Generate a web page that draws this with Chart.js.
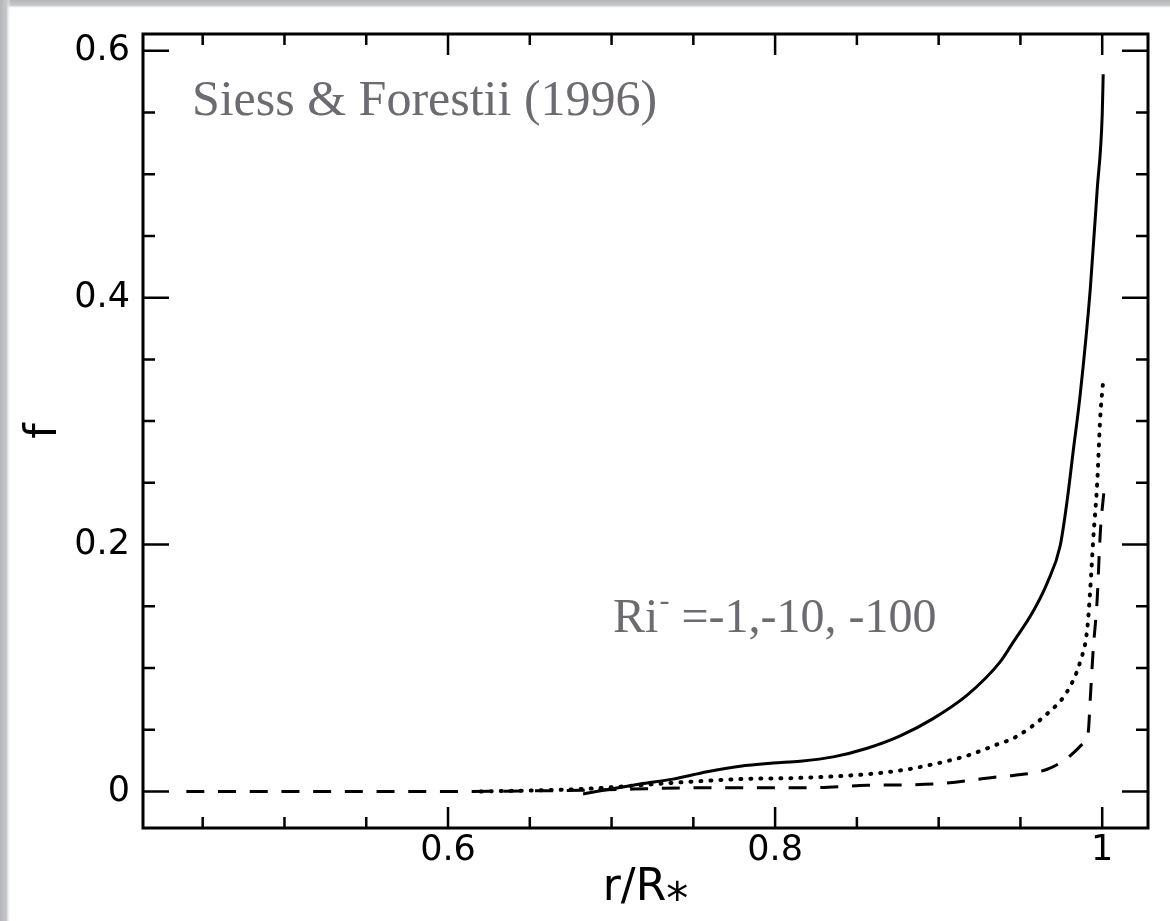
<!DOCTYPE html>
<html>
<head>
<meta charset="utf-8">
<script src="https://cdn.jsdelivr.net/npm/chart.js@4/dist/chart.umd.min.js"></script>
<style>
  html, body { margin: 0; padding: 0; background: #fff; }
  canvas { display: block; }
</style>
</head>
<body>
<canvas id="plot" width="1170" height="921"></canvas>
<script>
// values
const xTicks = [0.6, 0.8, 1]
const xTickLabels = ['0.6', '0.8', '1']
const yTicks = [0, 0.2, 0.4, 0.6]
const yTickLabels = ['0', '0.2', '0.4', '0.6']
const minorStep = 0.05

// Ri = -1 (solid)
const rSolid = [0.6826, 0.7174, 0.7376, 0.7584, 0.7786, 0.7988, 0.8153, 0.8355, 0.8563, 0.8765, 0.8966, 0.9174, 0.9376, 0.9456, 0.9578, 0.9664, 0.9743, 0.9786, 0.9823, 0.9865, 0.9927, 0.9969, 1.0000, 1.0006]
const fSolid = [-0.002, 0.006, 0.010, 0.016, 0.0205, 0.023, 0.0245, 0.028, 0.035, 0.045, 0.059, 0.078, 0.105, 0.121, 0.146, 0.169, 0.199, 0.236, 0.276, 0.321, 0.407, 0.487, 0.548, 0.581]

// Ri = -10 (dotted)
const rDot = [0.620, 0.6826, 0.7376, 0.7786, 0.8153, 0.8563, 0.8765, 0.8966, 0.9174, 0.9376, 0.9456, 0.9664, 0.9786, 0.9865, 0.9908, 0.9927, 0.9945, 0.9969, 0.9988, 1.0006]
const fDot = [0.000, 0.002, 0.007, 0.010, 0.011, 0.014, 0.017, 0.022, 0.029, 0.039, 0.043, 0.063, 0.081, 0.105, 0.131, 0.164, 0.204, 0.249, 0.303, 0.333]

// Ri = -100 (dashed)
const rDash = [0.440, 0.600, 0.6826, 0.7584, 0.8196, 0.8563, 0.8966, 0.9376, 0.9456, 0.9664, 0.9786, 0.9884, 0.9914, 0.9927, 0.9945, 0.9969, 0.9988, 1.0012]
const fDash = [0.000, 0.000, 0.001, 0.003, 0.003, 0.005, 0.006, 0.012, 0.013, 0.018, 0.027, 0.039, 0.047, 0.075, 0.115, 0.155, 0.209, 0.245]

const toPoints = (xs, ys) => xs.map((x, i) => ({ x: x, y: ys[i] }))

const grayText = '#6d6b71'

// page shadow, frame, inward ticks and the two notes
const paperPlugin = {
  id: 'paper',
  beforeDraw(chart) {
    const ctx = chart.ctx
    ctx.save()
    ctx.fillStyle = '#fff'
    ctx.fillRect(0, 0, chart.width, chart.height)
    let g = ctx.createLinearGradient(0, 0, 0, 9)
    g.addColorStop(0, '#b4b5b8')
    g.addColorStop(0.6, '#c8c9cb')
    g.addColorStop(1, 'rgba(255,255,255,0)')
    ctx.fillStyle = g
    ctx.fillRect(0, 0, chart.width, 9)
    g = ctx.createLinearGradient(0, 0, 11, 0)
    g.addColorStop(0, '#b4b5b8')
    g.addColorStop(0.6, '#c8c9cb')
    g.addColorStop(1, 'rgba(255,255,255,0)')
    ctx.fillStyle = g
    ctx.fillRect(0, 0, 11, chart.height)
    ctx.restore()
  },
  afterDraw(chart) {
    const ctx = chart.ctx
    const a = chart.chartArea
    const xs = chart.scales.x
    const ys = chart.scales.y
    ctx.save()
    ctx.strokeStyle = '#000'
    ctx.lineWidth = 3
    ctx.strokeRect(a.left, a.top, a.right - a.left, a.bottom - a.top)

    ctx.lineWidth = 2.5
    ctx.beginPath()
    for (let v = 0.45; v <= 1.0001; v += minorStep) {
      const px = xs.getPixelForValue(v)
      const major = xTicks.some(t => Math.abs(t - v) < 1e-6)
      const len = major ? 21 : 11
      ctx.moveTo(px, a.bottom); ctx.lineTo(px, a.bottom - len)
      ctx.moveTo(px, a.top); ctx.lineTo(px, a.top + len)
    }
    for (let v = 0; v <= 0.6001; v += minorStep) {
      const py = ys.getPixelForValue(v)
      const major = yTicks.some(t => Math.abs(t - v) < 1e-6)
      const len = major ? 26 : 12
      ctx.moveTo(a.left, py); ctx.lineTo(a.left + len, py)
      ctx.moveTo(a.right, py); ctx.lineTo(a.right - len, py)
    }
    ctx.stroke()

    // notes in grey serif
    ctx.fillStyle = grayText
    ctx.textBaseline = 'alphabetic'
    ctx.font = '50px "Liberation Serif", serif'
    ctx.fillText('Siess & Forestii (1996)', xs.getPixelForValue(0.4434), ys.getPixelForValue(0.548))

    let x = xs.getPixelForValue(0.7009)
    const y = ys.getPixelForValue(0.129)
    ctx.font = '48px "Liberation Serif", serif'
    ctx.fillText('Ri', x, y)
    x += ctx.measureText('Ri').width
    ctx.font = '30px "Liberation Serif", serif'
    ctx.fillText('-', x + 1, y - 22)
    x += ctx.measureText('-').width + 1
    ctx.font = '48px "Liberation Serif", serif'
    ctx.fillText(' =-1,-10, -100', x, y)
    ctx.restore()
  }
}

const tickFont = { family: '"DejaVu Sans", sans-serif', size: 35 }

new Chart(document.getElementById('plot').getContext('2d'), {
  type: 'line',
  data: {
    datasets: [
      {
        data: toPoints(rSolid, fSolid),
        borderColor: '#000',
        borderWidth: 3,
        pointRadius: 0,
        cubicInterpolationMode: 'monotone',
        fill: false
      },
      {
        data: toPoints(rDot, fDot),
        borderColor: '#000',
        borderWidth: 4,
        borderDash: [1, 9],
        borderCapStyle: 'round',
        pointRadius: 0,
        cubicInterpolationMode: 'monotone',
        fill: false
      },
      {
        data: toPoints(rDash, fDash),
        borderColor: '#000',
        borderWidth: 3,
        borderDash: [18, 13.7],
        pointRadius: 0,
        cubicInterpolationMode: 'monotone',
        fill: false
      }
    ]
  },
  options: {
    responsive: false,
    animation: false,
    devicePixelRatio: 1,
    layout: { padding: { top: 25, right: 22, left: 0, bottom: 0 } },
    plugins: { legend: { display: false }, tooltip: { enabled: false } },
    scales: {
      x: {
        type: 'linear',
        min: 0.4135,
        max: 1.028,
        grid: { display: false, drawTicks: false },
        border: { display: false },
        afterBuildTicks: scale => { scale.ticks = xTicks.map(v => ({ value: v })) },
        afterFit: scale => { scale.height = 93 },
        ticks: {
          color: '#000',
          font: tickFont,
          padding: 2,
          maxRotation: 0,
          autoSkip: false,
          callback: (value, index) => xTickLabels[index]
        },
        title: {
          display: true,
          text: 'r/R⁎',
          color: '#000',
          font: { family: '"DejaVu Sans", sans-serif', size: 44, lineHeight: 1 },
          padding: { top: 0, bottom: 10 }
        }
      },
      y: {
        type: 'linear',
        min: -0.0296,
        max: 0.6136,
        grid: { display: false, drawTicks: false },
        border: { display: false },
        afterBuildTicks: scale => { scale.ticks = yTicks.map(v => ({ value: v })) },
        afterFit: scale => { scale.width = 143 },
        ticks: {
          color: '#000',
          font: tickFont,
          padding: 13,
          autoSkip: false,
          callback: (value, index) => yTickLabels[index]
        },
        title: {
          display: true,
          text: 'f',
          color: '#000',
          font: { family: '"DejaVu Sans", sans-serif', size: 44, lineHeight: 1 },
          padding: { top: 23, bottom: 0 }
        }
      }
    }
  },
  plugins: [paperPlugin]
});
</script>
</body>
</html>
